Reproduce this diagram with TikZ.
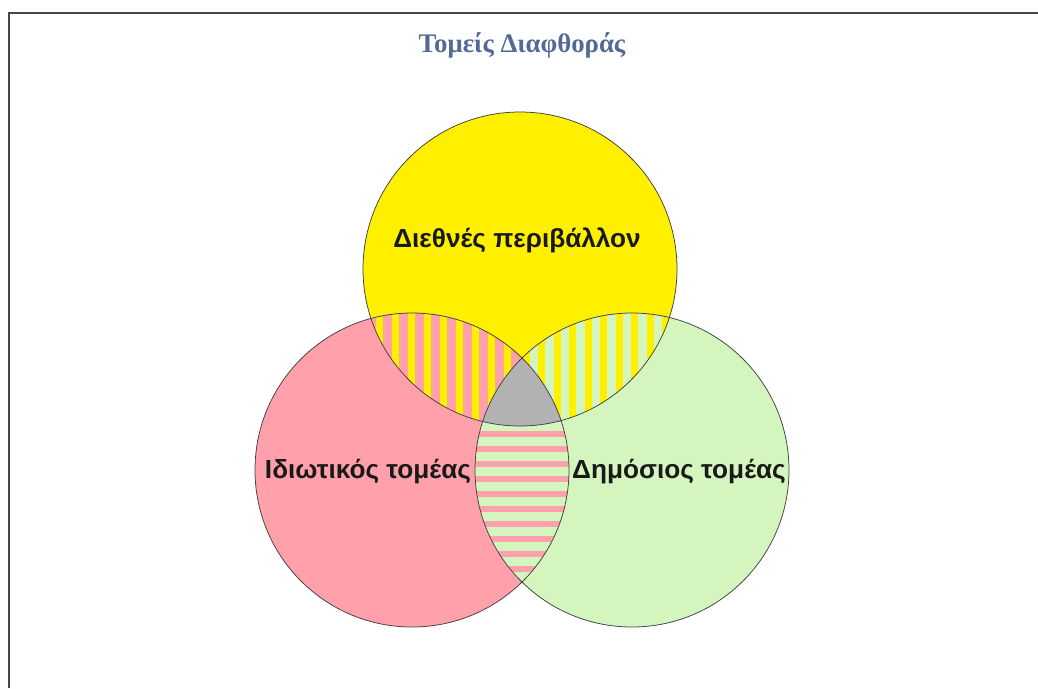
\documentclass[tikz,border=0pt]{standalone}
\usepackage{fontspec}
\setmainfont{Liberation Serif}
\newfontfamily\labfont{Liberation Sans}
\definecolor{cyel}{RGB}{255,240,0}
\definecolor{cpink}{RGB}{255,160,170}
\definecolor{cgreen}{RGB}{212,246,190}
\definecolor{cgray}{RGB}{178,178,178}
\definecolor{ctitle}{RGB}{84,106,150}
\definecolor{cframe}{RGB}{70,70,70}
\begin{document}
\begin{tikzpicture}[x=1pt,y=-1pt,
  circline/.style={draw=black!75,line width=0.75pt},
  lab/.style={font=\labfont\bfseries\fontsize{26.2}{30}\selectfont,text=black!90,inner sep=0pt}]
\useasboundingbox (0,0) rectangle (1038,688);
\coordinate (Y) at (520,269);
\coordinate (P) at (412,470);
\coordinate (G) at (632,470);
\def\R{157}
% base fills
\fill[cpink] (P) circle (\R);
\fill[cgreen] (G) circle (\R);
\fill[cyel] (Y) circle (\R);
% yellow-pink lens
\begin{scope}
  \clip (Y) circle (\R);
  \clip (P) circle (\R);
  \fill[cpink] (250,290) rectangle (560,440);
  \foreach \k in {0,...,12} {\fill[cyel] ({376+16*\k},290) rectangle ({383+16*\k},440);}
\end{scope}
% yellow-green lens
\begin{scope}
  \clip (Y) circle (\R);
  \clip (G) circle (\R);
  \fill[cgreen] (470,290) rectangle (700,440);
  \foreach \k in {0,...,12} {\fill[cyel] ({476+15.5*\k},290) rectangle ({483+15.5*\k},440);}
\end{scope}
% pink-green lens
\begin{scope}
  \clip (P) circle (\R);
  \clip (G) circle (\R);
  \fill[cgreen] (470,350) rectangle (580,590);
  \foreach \k in {-2,...,12} {\fill[cpink] (470,{431+15*\k}) rectangle (580,{437+15*\k});}
\end{scope}
% triple region
\begin{scope}
  \clip (Y) circle (\R);
  \clip (P) circle (\R);
  \fill[cgray] (G) circle (\R);
\end{scope}
% outlines
\draw[circline] (P) circle (\R);
\draw[circline] (G) circle (\R);
\draw[circline] (Y) circle (\R);
% frame
\draw[cframe,line width=2pt] (8.5,688) -- (8.5,12.5) -- (1038,12.5);
% texts
\node[font=\bfseries\fontsize{26.8}{30}\selectfont,text=ctitle,inner sep=0pt] (title) at (522,45) {Τομείς Διαφθοράς};
\node[lab] (ldiethnes) at (517,240) {Διεθνές περιβάλλον};
\node[lab] (lidiotikos) at (368,472) {Ιδιωτικός τομέας};
\node[lab] (ldimosios) at (679,472) {Δημόσιος τομέας};
\end{tikzpicture}
\end{document}
